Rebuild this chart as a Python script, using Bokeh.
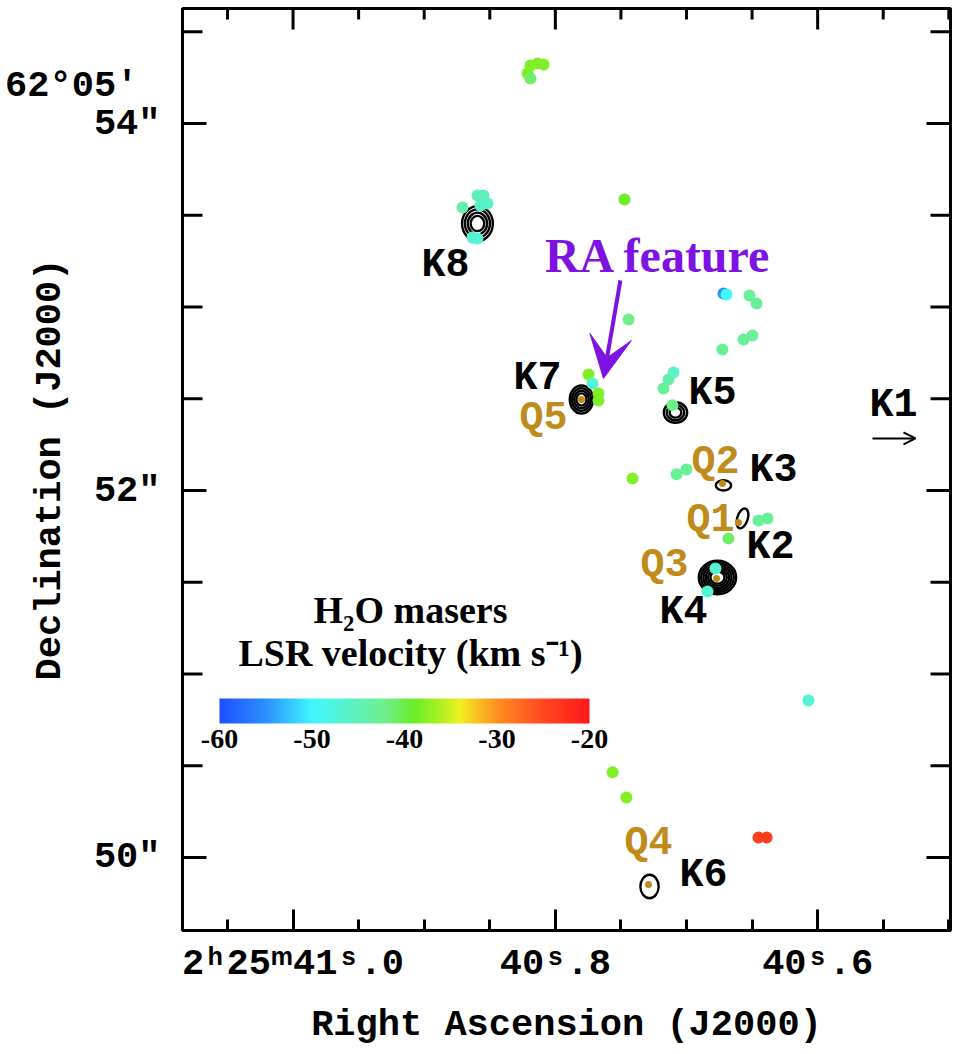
import numpy as np
from bokeh.plotting import figure
from bokeh.models import (Range1d, LinearAxis, FixedTicker, LinearColorMapper, ColorBar,
                          ColumnDataSource, Label, Arrow, VeeHead, OpenHead)
from bokeh.core.properties import value
from bokeh.embed import file_html
from bokeh.resources import INLINE

# ---------------- data ----------------
# H2O masers: RA seconds (2h25m xx.s), Dec arcsec (62d05' xx"), LSR velocity km/s
maser_ra = [40.8190, 40.8136, 40.8090, 40.8212, 40.8190,
            40.8594, 40.8548, 40.8517, 40.8571, 40.8708, 40.8594, 40.8632,
            40.7473, 40.7442,
            40.6718, 40.6695, 40.6520, 40.6466, 40.6565, 40.6497, 40.6726,
            40.7747, 40.7717, 40.7671, 40.7671,
            40.7099, 40.7137, 40.7175, 40.7107,
            40.7412, 40.7076, 40.7000,
            40.6451, 40.6382, 40.6680,
            40.6779, 40.6840,
            40.6070,
            40.7564, 40.7458,
            40.6451, 40.6389]
maser_dec = [54.316, 54.327, 54.322, 54.273, 54.246,
             53.608, 53.608, 53.564, 53.553, 53.543, 53.374, 53.379,
             53.586, 52.932,
             53.074, 53.068, 53.063, 53.019, 52.823, 52.845, 52.769,
             52.632, 52.583, 52.529, 52.491,
             52.643, 52.605, 52.556, 52.464,
             52.066, 52.088, 52.115,
             51.837, 51.848, 51.739,
             51.575, 51.450,
             50.856,
             50.464, 50.327,
             50.109, 50.109]
maser_vlsr = [-38, -38, -38, -38, -41,
              -45, -45, -46, -46, -44, -47, -47,
              -39, -42,
              -55, -50, -43, -43, -43, -43, -43,
              -38, -47, -38, -38,
              -46, -44, -43, -42,
              -38, -43, -43,
              -43, -43, -41,
              -47, -47,
              -47,
              -38, -38,
              -24, -24]

# continuum sources (contours): centre, outer size (arcsec), tilt (rad), number of contour levels
cont_name = ["K8", "K7", "K5", "K3", "K2", "K4", "K6"]
cont_ra = [40.8594, 40.7801, 40.7084, 40.6718, 40.6573, 40.6764, 40.7282]
cont_dec = [53.455, 52.496, 52.425, 52.028, 51.848, 51.526, 49.842]
cont_w = [0.165, 0.125, 0.125, 0.082, 0.056, 0.200, 0.098]
cont_h = [0.190, 0.152, 0.112, 0.056, 0.112, 0.182, 0.128]
cont_tilt = [0.0, 0.0, 0.0, 0.0, -0.3, 0.0, 0.0]
cont_levels = [4, 4, 3, 1, 1, 6, 1]

# Q sources (compact peaks)
q_ra = [40.7801, 40.6726, 40.6604, 40.6771, 40.7290]
q_dec = [52.496, 52.038, 51.826, 51.521, 49.853]

# labels
k_text = ["K8", "K7", "K5", "K1", "K3", "K2", "K4", "K6"]
k_ra = [40.8838, 40.8136, 40.6802, 40.5422, 40.6337, 40.6360, 40.7023, 40.6870]
k_dec = [53.2265, 52.611, 52.529, 52.4635, 52.109, 51.690, 51.335, 49.902]
q_text = ["Q5", "Q2", "Q1", "Q3", "Q4"]
q_lab_ra = [40.8090, 40.6779, 40.6817, 40.7168, 40.7290]
q_lab_dec = [52.393, 52.153, 51.837, 51.592, 50.077]

x_major = [41.0, 40.8, 40.6]
x_major_labels = ["2ʰ25ᵐ41ˢ.0", "40ˢ.8", "40ˢ.6"]
x_minor = [41.05, 40.95, 40.9, 40.85, 40.75, 40.7, 40.65, 40.55, 40.5]
y_major = [50, 52, 54]
y_major_labels = ["50″", "52″", "54″"]
y_minor = [49.5, 50.5, 51.0, 51.5, 52.5, 53.0, 53.5, 54.5]
dec_header_pos = 54.207
dec_header = "62°05′\u00a0"
cbar_ticks = [-60, -50, -40, -30, -20]
cbar_labels = ["-60", "-50", "-40", "-30", "-20"]

SEC_PER_ARCSEC = 1.0 / (15.0 * np.cos(np.deg2rad(62.0847)))

# ---------------- colours ----------------
anch_v = [-60, -55, -50, -45, -42, -39, -36, -34, -30, -25, -20]
anch_c = ["#1e50ff", "#2c90ff", "#40f8ff", "#60f0b8", "#70ee88", "#6aee2a",
          "#b0f020", "#f0f020", "#ff9020", "#ff4820", "#ff1818"]
def _rgb(h):
    return [int(h[i:i + 2], 16) for i in (1, 3, 5)]
rgb = np.array([_rgb(c) for c in anch_c], dtype=float)
vv = np.linspace(-60, -20, 256)
palette = ["#%02x%02x%02x" % tuple(int(round(np.interp(v, anch_v, rgb[:, k]))) for k in range(3)) for v in vv]
mapper = LinearColorMapper(palette=palette, low=-60, high=-20)

MONO = value("Liberation Mono")
SERIF = value("Liberation Serif")
GOLD = "#bf8c1c"
PURPLE = "#7d12e3"

X0, X1 = 41.0843, 40.4987
Y0, Y1 = 49.602, 54.627

# ---------------- figure ----------------
p = figure(frame_width=768, frame_height=922,
           x_range=Range1d(X0, X1), y_range=Range1d(Y0, Y1),
           x_axis_type=None, y_axis_type=None,
           output_backend="svg", toolbar_location=None,
           min_border_left=182, min_border_top=8, min_border_right=6, min_border_bottom=10)
p.xgrid.visible = False
p.ygrid.visible = False
p.outline_line_color = "black"
p.outline_line_width = 3
p.background_fill_color = "white"
p.border_fill_color = "white"


def label_style(ax):
    ax.major_label_text_font = "Liberation Mono"
    ax.major_label_text_font_style = "bold"
    ax.major_label_text_font_size = "37px"
    ax.major_label_text_color = "black"
    ax.axis_label_text_font = "Liberation Mono"
    ax.axis_label_text_font_style = "bold"
    ax.axis_label_text_font_size = "37px"
    ax.axis_label_text_color = "black"
    ax.axis_line_width = 3
    ax.axis_line_color = "black"


# bottom axis
xb = LinearAxis(ticker=FixedTicker(ticks=x_major, minor_ticks=x_minor),
                axis_label="Right Ascension (J2000)")
xb.major_label_overrides = dict(zip(x_major, x_major_labels))
label_style(xb)
xb.major_tick_line_width = 3
xb.minor_tick_line_width = 3
xb.major_tick_line_color = "black"
xb.minor_tick_line_color = "black"
xb.major_tick_in = 21
xb.major_tick_out = 0
xb.minor_tick_in = 11
xb.minor_tick_out = 0
xb.major_label_standoff = 12
xb.axis_label_standoff = 16
p.add_layout(xb, "below")

# left axis: labels only (tick marks drawn as rays below)
yl = LinearAxis(ticker=FixedTicker(ticks=y_major + [dec_header_pos], minor_ticks=[]),
                axis_label="Declination (J2000)")
yl.major_label_overrides = dict(zip(y_major + [dec_header_pos], y_major_labels + [dec_header]))
label_style(yl)
yl.major_tick_line_color = None
yl.major_tick_in = 0
yl.major_tick_out = 0
yl.minor_tick_line_color = None
yl.major_label_standoff = 22
yl.axis_label_standoff = -69
p.add_layout(yl, "left")

# frame tick marks on top, left and right edges
tick_kw = dict(length_units="screen", line_color="black", line_width=3)
p.ray(x=x_major, y=[Y1] * len(x_major), length=21, angle=-np.pi / 2, **tick_kw)
p.ray(x=x_minor, y=[Y1] * len(x_minor), length=11, angle=-np.pi / 2, **tick_kw)
p.ray(x=[X0] * len(y_major), y=y_major, length=24, angle=0, **tick_kw)
p.ray(x=[X0] * len(y_minor), y=y_minor, length=20, angle=0, **tick_kw)
p.ray(x=[X1] * len(y_major), y=y_major, length=24, angle=np.pi, **tick_kw)
p.ray(x=[X1] * len(y_minor), y=y_minor, length=20, angle=np.pi, **tick_kw)

# ---------------- contours ----------------
cx, cy, cw, ch, ca = [], [], [], [], []
for i in range(len(cont_name)):
    n = cont_levels[i]
    for k in range(n):
        s = 1.0 - k * 0.75 / n
        cx.append(cont_ra[i])
        cy.append(cont_dec[i])
        cw.append(cont_w[i] * s * SEC_PER_ARCSEC)
        ch.append(cont_h[i] * s)
        ca.append(cont_tilt[i])
csrc = ColumnDataSource(dict(x=cx, y=cy, w=cw, h=ch, a=ca))
p.ellipse(x="x", y="y", width="w", height="h", angle="a", source=csrc,
          fill_color=None, line_color="black", line_width=2.4)

# Q peaks
p.scatter(q_ra, q_dec, size=7, fill_color=GOLD, line_color=None)

# masers
msrc = ColumnDataSource(dict(x=maser_ra, y=maser_dec, v=maser_vlsr))
p.scatter(x="x", y="y", source=msrc, size=12,
          fill_color={"field": "v", "transform": mapper}, line_color=None)

# labels
p.text(k_ra, k_dec, text=k_text, text_align="center", text_baseline="middle",
       text_font=MONO, text_font_style="bold", text_font_size="40px", text_color="black")
p.text(q_lab_ra, q_lab_dec, text=q_text, text_align="center", text_baseline="middle",
       text_font=MONO, text_font_style="bold", text_font_size="40px", text_color=GOLD)

# K1 arrow
p.add_layout(Arrow(end=OpenHead(size=12, line_width=2, line_color="black"),
                   x_start=40.5582, y_start=52.284, x_end=40.5254, y_end=52.284,
                   line_color="black", line_width=2))

# RA feature
p.text([40.7214], [53.281], text=["RA feature"], text_align="center", text_baseline="middle",
       text_font=SERIF, text_font_style="bold", text_font_size="48px", text_color=PURPLE)
p.add_layout(Arrow(end=VeeHead(size=42, fill_color=PURPLE, line_color=PURPLE),
                   x_start=40.7504, y_start=53.145, x_end=40.7633, y_end=52.611,
                   line_color=PURPLE, line_width=4))

# colour bar
cb = ColorBar(color_mapper=mapper, orientation="horizontal", location=(37, 180),
              width=370, height=25, padding=0,
              ticker=FixedTicker(ticks=cbar_ticks),
              major_label_overrides=dict(zip(cbar_ticks, cbar_labels)),
              major_label_text_font="Liberation Serif", major_label_text_font_style="bold",
              major_label_text_font_size="28px", major_label_text_color="black",
              major_tick_line_color=None, minor_tick_line_color=None,
              bar_line_color=None, border_line_color=None, background_fill_alpha=0,
              label_standoff=6)
p.add_layout(cb)
p.add_layout(Label(x=228, y=321, x_units="screen", y_units="screen", text="H₂O masers",
                   text_align="center", text_baseline="middle", text_font="Liberation Serif",
                   text_font_style="bold", text_font_size="38px", text_color="black"))
p.add_layout(Label(x=228, y=278, x_units="screen", y_units="screen", text="LSR velocity (km s⁻¹)",
                   text_align="center", text_baseline="middle", text_font="Liberation Serif",
                   text_font_style="bold", text_font_size="38px", text_color="black"))

open("out.html", "w").write(file_html(p, INLINE))
